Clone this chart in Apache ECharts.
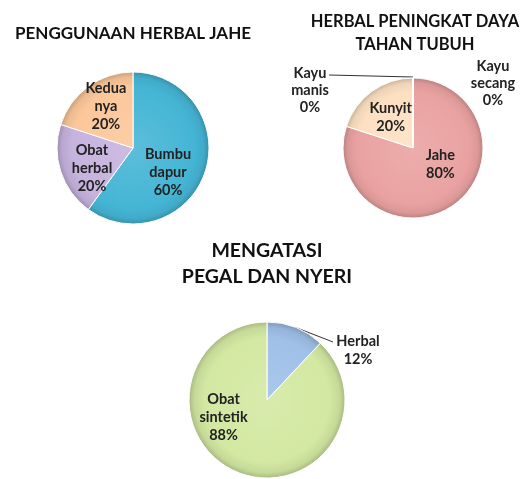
<!DOCTYPE html>
<html>
<head>
<meta charset="utf-8">
<script src="https://cdn.jsdelivr.net/npm/echarts@6/dist/echarts.min.js"></script>
<style>
  html, body { margin: 0; padding: 0; background: #fff; }
  #chart { width: 528px; height: 479px; }
</style>
</head>
<body>
<div id="chart"></div>
<script>
// chart 1: penggunaan herbal jahe
var useNames = ['Bumbu\ndapur', 'Obat\nherbal', 'Kedua\nnya']
var useValues = [60, 20, 20]
var useColors = ['#45b5d5', '#c6b3de', '#fcc79a']

// chart 2: herbal peningkat daya tahan tubuh
var immuneNames = ['Jahe', 'Kunyit', 'Kayu\nmanis', 'Kayu\nsecang']
var immuneValues = [80, 20, 0, 0]
var immuneColors = ['#e9a2a1', '#fde0c2', '#c9d9a0', '#b6a3cf']

// chart 3: mengatasi pegal dan nyeri
var painNames = ['Herbal', 'Obat\nsintetik']
var painValues = [12, 88]
var painColors = ['#9fc0e8', '#d3e8a2']

var FONT = 'Lato'
var pies = [
    { cx: 133, cy: 148, r: 76 },
    { cx: 413, cy: 148, r: 70 },
    { cx: 267, cy: 400, r: 78 }
]

function shade(hex, amt) {
    var n = parseInt(hex.slice(1), 16)
    var r = (n >> 16) & 255, g = (n >> 8) & 255, b = n & 255
    function f(c) {
        c = amt > 0 ? c + (255 - c) * amt : c * (1 + amt)
        return Math.round(c)
    }
    return 'rgb(' + f(r) + ',' + f(g) + ',' + f(b) + ')'
}

function fill(hex, p) {
    return {
        type: 'radial', x: p.cx, y: p.cy, r: p.r, global: true,
        colorStops: [
            { offset: 0, color: shade(hex, 0.12) },
            { offset: 0.8, color: hex },
            { offset: 0.93, color: shade(hex, -0.06) },
            { offset: 1, color: shade(hex, -0.2) }
        ]
    }
}

function makeData(names, values, colors, p) {
    return names.map(function (n, i) {
        return { name: n, value: values[i], itemStyle: { color: fill(colors[i], p) } }
    })
}

var labelStyle = {
    show: true,
    position: 'inside',
    fontFamily: FONT,
    fontWeight: 'bold',
    fontSize: 14.5,
    lineHeight: 18,
    color: '#222',
    formatter: function (p) { return p.name + '\n' + p.value + '%' }
}

// small nudges so labels sit where the original puts them
function nudge(shifts) {
    return function (params) {
        var s = shifts[params.dataIndex]
        return s ? { dx: s[0], dy: s[1] } : {}
    }
}

var chart = echarts.init(document.getElementById('chart'))

var option = {
    backgroundColor: '#fff',
    animation: false,
    title: [
        {
            text: 'PENGGUNAAN HERBAL JAHE',
            left: 128, top: 20, textAlign: 'center',
            textStyle: { fontFamily: FONT, fontSize: 17, fontWeight: 'bold', color: '#111' }
        },
        {
            text: 'HERBAL PENINGKAT DAYA\nTAHAN TUBUH',
            left: 410, top: 5, textAlign: 'center',
            textStyle: { fontFamily: FONT, fontSize: 16.5, fontWeight: 'bold', color: '#111', lineHeight: 23 }
        },
        {
            text: 'MENGATASI\nPEGAL DAN NYERI',
            left: 262, top: 233, textAlign: 'center',
            textStyle: { fontFamily: FONT, fontSize: 19.5, fontWeight: 'bold', color: '#111', lineHeight: 26 }
        }
    ],
    series: [
        {
            type: 'pie',
            center: [pies[0].cx, pies[0].cy],
            radius: pies[0].r,
            startAngle: 90,
            clockwise: true,
            avoidLabelOverlap: false,
            itemStyle: { borderColor: '#fff', borderWidth: 1 },
            label: labelStyle,
            labelLayout: nudge({ 0: [-4, 12], 1: [-2, 8], 2: [-3, -9] }),
            data: makeData(useNames, useValues, useColors, pies[0])
        },
        {
            type: 'pie',
            center: [pies[1].cx, pies[1].cy],
            radius: pies[1].r,
            startAngle: 90,
            clockwise: true,
            avoidLabelOverlap: false,
            itemStyle: { borderColor: '#fff', borderWidth: 1 },
            label: labelStyle,
            labelLine: { show: false },
            data: makeData(immuneNames, immuneValues, immuneColors, pies[1]).map(function (d, i) {
                if (immuneValues[i] === 0) {
                    d.label = { position: 'outside', align: 'center', lineHeight: 17 }
                    d.labelLine = { show: i === 2, lineStyle: { color: '#333', width: 1 } }
                }
                return d
            }),
            labelLayout: function (params) {
                var p = pies[1]
                if (params.dataIndex === 0) return { dx: 5, dy: -14 }
                if (params.dataIndex === 2) {
                    return {
                        x: p.cx - 103, y: p.cy - 58, align: 'center', verticalAlign: 'middle',
                        labelLinePoints: [[p.cx, p.cy - p.r - 1], [p.cx - 84, p.cy - p.r - 3], [p.cx - 84, p.cy - p.r - 3]]
                    }
                }
                if (params.dataIndex === 3) {
                    return { x: p.cx + 80, y: p.cy - 65, align: 'center', verticalAlign: 'middle' }
                }
                return {}
            }
        },
        {
            type: 'pie',
            center: [pies[2].cx, pies[2].cy],
            radius: pies[2].r,
            startAngle: 90,
            clockwise: true,
            avoidLabelOverlap: false,
            itemStyle: { borderColor: '#fff', borderWidth: 1 },
            label: labelStyle,
            data: makeData(painNames, painValues, painColors, pies[2]).map(function (d, i) {
                if (i === 0) {
                    d.label = { position: 'outside', align: 'center' }
                    d.labelLine = { show: true, lineStyle: { color: '#333', width: 1 } }
                }
                return d
            }),
            labelLayout: function (params) {
                var p = pies[2]
                if (params.dataIndex === 0) {
                    var a = (90 - painValues[0] / 100 * 180) * Math.PI / 180
                    var sx = p.cx + p.r * Math.cos(a), sy = p.cy - p.r * Math.sin(a)
                    return {
                        x: p.cx + 91, y: p.cy - 50, align: 'center', verticalAlign: 'middle',
                        labelLinePoints: [[sx, sy], [p.cx + 66, p.cy - 58], [p.cx + 66, p.cy - 58]]
                    }
                }
                return { dx: -28, dy: -22 }
            }
        }
    ]
}

chart.setOption(option)
</script>
</body>
</html>
